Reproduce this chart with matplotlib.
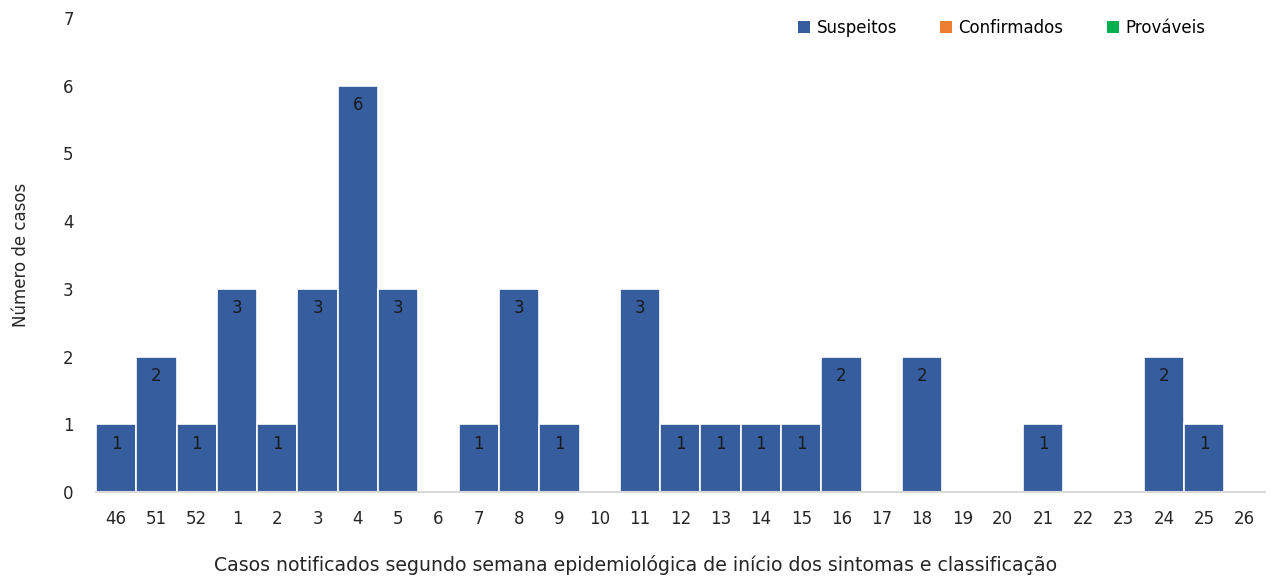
import numpy as np
import matplotlib as mpl
import matplotlib.pyplot as plt
from matplotlib.patches import Patch

mpl.rcParams.update({
    "font.family": ["DejaVu Sans"],
    "font.size": 12,
})

SEMANAS = ["46", "51", "52", "1", "2", "3", "4", "5", "6", "7", "8", "9", "10", "11",
           "12", "13", "14", "15", "16", "17", "18", "19", "20", "21", "22", "23",
           "24", "25", "26"]
SUSPEITOS = [1, 2, 1, 3, 1, 3, 6, 3, 0, 1, 3, 1, 0, 3, 1, 1, 1, 1, 2, 0, 2, 0, 0,
             1, 0, 0, 2, 1, 0]
CONFIRMADOS = [0] * len(SEMANAS)
PROVAVEIS = [0] * len(SEMANAS)

C_SUSP = "#365E9F"
C_CONF = "#ED7D31"
C_PROV = "#00B050"
TXT = "#262626"

fig = plt.figure(figsize=(12.71, 5.78), dpi=100)
ax = fig.add_axes([0.0755, 0.1488, 0.9195, 0.8202])

x = np.arange(len(SEMANAS))
susp = np.asarray(SUSPEITOS, dtype=float)
conf = np.asarray(CONFIRMADOS, dtype=float)
prov = np.asarray(PROVAVEIS, dtype=float)

ax.bar(x, susp, width=1.0, color=C_SUSP, edgecolor="white", linewidth=1.2, zorder=2)
ax.bar(x, conf, width=1.0, bottom=susp, color=C_CONF, linewidth=0, zorder=2)
ax.bar(x, prov, width=1.0, bottom=susp + conf, color=C_PROV, linewidth=0, zorder=2)

# value labels just inside the top of each non-empty bar
for xi, v in zip(x, susp):
    if v > 0:
        ax.annotate(f"{int(v)}", (xi, v), xytext=(0, -14), textcoords="offset points",
                    ha="center", va="center", fontsize=12, color="#1a1a1a", zorder=3)

ax.set_xlim(-0.5, len(SEMANAS) - 0.5)
ax.set_ylim(0, 7)
ax.set_yticks(range(0, 8))
ax.set_xticks(x)
ax.set_xticklabels(SEMANAS)
ax.tick_params(axis="both", length=0, labelsize=12, colors=TXT)
ax.tick_params(axis="x", pad=13)
ax.tick_params(axis="y", pad=16)

for side in ("top", "right", "left"):
    ax.spines[side].set_visible(False)
ax.spines["bottom"].set_color("#d9d9d9")
ax.spines["bottom"].set_linewidth(1.5)

ax.set_ylabel("Número de casos", fontsize=12, color=TXT, labelpad=24)
# x title is centred on the whole figure, not the axes
fig.text(0.5, 0.006, "Casos notificados segundo semana epidemiológica de início dos sintomas e classificação",
         ha="center", va="bottom", fontsize=13.6, color=TXT)

handles = [Patch(facecolor=C_SUSP, label="Suspeitos"),
           Patch(facecolor=C_CONF, label="Confirmados"),
           Patch(facecolor=C_PROV, label="Prováveis")]
ax.legend(handles=handles, loc="upper right", bbox_to_anchor=(0.962, 1.03), ncol=3,
          frameon=False, fontsize=12, handlelength=0.7, handleheight=0.7,
          handletextpad=0.4, columnspacing=2.6)

fig.savefig("out.png", dpi=100)
